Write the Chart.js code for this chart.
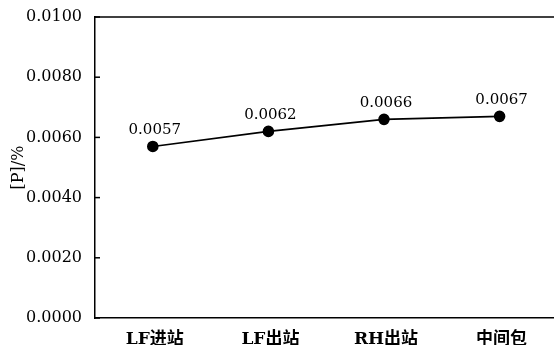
<!DOCTYPE html>
<html>
<head>
<meta charset="utf-8">
<script src="https://cdn.jsdelivr.net/npm/chart.js@4/dist/chart.umd.min.js"></script>
<style>
html,body{margin:0;padding:0;background:#fff;overflow:hidden;}
#wrap{width:564px;height:345px;position:relative;}
</style>
</head>
<body>
<div id="wrap"><canvas id="c" width="564" height="345"></canvas></div>
<script>
const categories = ['LF进站', 'LF出站', 'RH出站', '中间包'];
const pValues = [0.0057, 0.0062, 0.0066, 0.0067];
const yTicks = [0.0000, 0.0020, 0.0040, 0.0060, 0.0080, 0.0100];
const yTitle = '[P]/%';

const serif = "'DejaVu Serif','Noto Sans CJK SC',serif";

const framePlugin = {
  id: 'frame',
  afterDraw(chart) {
    const {ctx, chartArea, scales} = chart;
    ctx.save();
    ctx.strokeStyle = '#000';
    ctx.lineWidth = 1.5;
    ctx.beginPath();
    ctx.moveTo(chartArea.left, chartArea.top);
    ctx.lineTo(chartArea.right, chartArea.top);
    ctx.stroke();
    const y = scales.y;
    y.ticks.forEach(t => {
      const py = y.getPixelForValue(t.value);
      ctx.beginPath();
      ctx.moveTo(chartArea.left, py);
      ctx.lineTo(chartArea.left + 5, py);
      ctx.stroke();
    });
    ctx.restore();
  },
  afterDatasetsDraw(chart) {
    const {ctx} = chart;
    const meta = chart.getDatasetMeta(0);
    ctx.save();
    ctx.fillStyle = '#000';
    ctx.font = "15px " + serif;
    ctx.textAlign = 'center';
    ctx.textBaseline = 'middle';
    meta.data.forEach((pt, i) => {
      ctx.fillText(pValues[i].toFixed(4), pt.x + 2, pt.y - 16);
    });
    ctx.restore();
  }
};

new Chart(document.getElementById('c'), {
  type: 'line',
  data: {
    labels: categories,
    datasets: [{
      data: pValues,
      borderColor: '#000',
      backgroundColor: '#000',
      borderWidth: 1.6,
      pointRadius: 5,
      pointBackgroundColor: '#000',
      pointBorderColor: '#000',
      tension: 0,
      fill: false
    }]
  },
  options: {
    responsive: false,
    animation: false,
    devicePixelRatio: 1,
    layout: {padding: {top: 17, right: 0, left: 0, bottom: 0}},
    plugins: {legend: {display: false}, tooltip: {enabled: false}},
    scales: {
      x: {
        type: 'category',
        offset: true,
        grid: {display: false},
        border: {display: true, color: '#000', width: 1.5},
        ticks: {
          color: '#000',
          padding: 3,
          labelOffset: 2,
          maxRotation: 0,
          font: {family: serif, size: 17, weight: 'bold'}
        },
        afterFit(s) { s.height = 27; }
      },
      y: {
        min: 0,
        max: 0.01,
        grid: {display: false},
        border: {display: true, color: '#000', width: 1.5},
        afterBuildTicks(s) { s.ticks = yTicks.map(v => ({value: v})); },
        ticks: {
          color: '#000',
          padding: 5,
          font: {family: serif, size: 16},
          callback: v => Number(v).toFixed(4)
        },
        title: {
          display: true,
          text: yTitle,
          color: '#000',
          padding: {top: 9, bottom: 0},
          font: {family: serif, size: 16}
        },
        afterFit(s) { s.width = 95; }
      }
    }
  },
  plugins: [framePlugin]
});
</script>
</body>
</html>
